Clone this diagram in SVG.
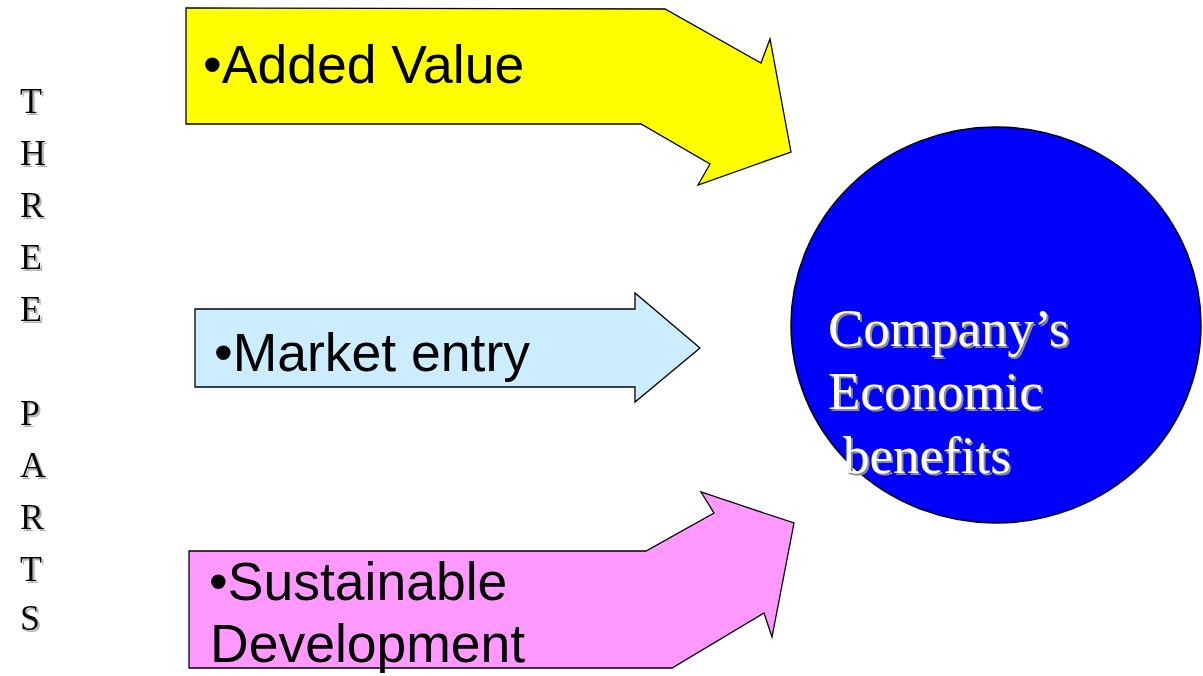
<svg xmlns="http://www.w3.org/2000/svg" width="1203" height="676" viewBox="0 0 1203 676">
<defs>
<filter id="shadow" x="-10%" y="-10%" width="130%" height="130%">
<feOffset in="SourceAlpha" dx="2" dy="2" result="off"/>
<feFlood flood-color="#8c8c8c"/>
<feComposite in2="off" operator="in" result="sh"/>
<feMerge><feMergeNode in="sh"/><feMergeNode in="SourceGraphic"/></feMerge>
</filter>
<filter id="softshadow" x="-20%" y="-20%" width="160%" height="160%">
<feOffset in="SourceAlpha" dx="2" dy="2" result="off"/>
<feGaussianBlur in="off" stdDeviation="0.6" result="bl"/>
<feFlood flood-color="#b4b4b4"/>
<feComposite in2="bl" operator="in" result="sh"/>
<feMerge><feMergeNode in="sh"/><feMergeNode in="SourceGraphic"/></feMerge>
</filter>
</defs>
<style>
.arrow{stroke:#000;stroke-width:1.3;stroke-linejoin:miter}
.lbl{font-family:"Liberation Sans",Arial,sans-serif;font-size:53.5px;fill:#000}
.side{font-family:"Liberation Serif","Times New Roman",serif;font-size:36px;fill:#000}
.circ{font-family:"Liberation Serif","Times New Roman",serif;font-size:53px;fill:#fff}
</style>
<rect width="1203" height="676" fill="#fff"/>
<g id="side-label" class="side" filter="url(#softshadow)">
<text x="20" y="113">T</text><text x="20" y="165">H</text><text x="20" y="217">R</text><text x="20" y="269">E</text><text x="20" y="321">E</text>
<text x="20" y="425">P</text><text x="20" y="477">A</text><text x="20" y="529">R</text><text x="20" y="581">T</text><text x="20" y="630">S</text>
</g>
<g id="connectors">
<g id="added-value">
<polygon class="arrow" fill="#FFFF00" points="186,8 665,9 761,63 770,39 791,152 698,185 710,164 641,124 186,124"/>
<text class="lbl" x="203" y="83">•Added Value</text>
</g>
<g id="market-entry">
<polygon class="arrow" fill="#CCECFF" points="195,309 635,309 635,293 700,348 635,402 635,387 195,387"/>
<text class="lbl" x="214" y="371">•Market entry</text>
</g>
<g id="sustainable-development">
<polygon class="arrow" fill="#FF99FF" points="189,551 646,551 714,513 701,492 794,523 772,637 764,613 672,668 189,668"/>
<text class="lbl" x="209" y="600">•Sustainable</text>
<text class="lbl" x="210" y="662">Development</text>
</g>
</g>
<g id="benefits">
<ellipse cx="996" cy="325" rx="205" ry="198" fill="#0000FF" stroke="#000" stroke-width="1.5"/>
<g class="circ" filter="url(#shadow)">
<text x="828" y="346">Company’s</text>
<text x="828" y="409">Economic</text>
<text x="843" y="473">benefits</text>
</g>
</g>
</svg>
